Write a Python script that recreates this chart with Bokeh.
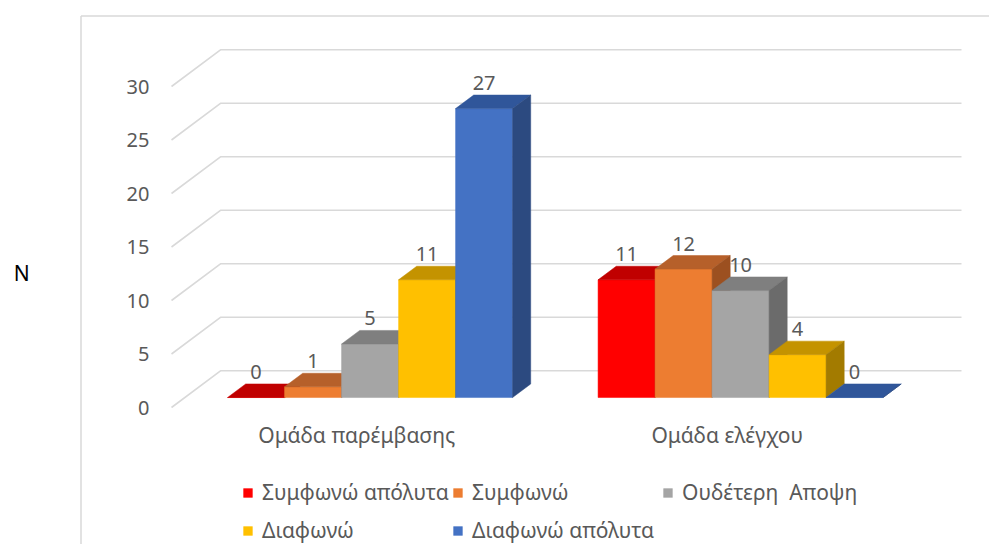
from bokeh.plotting import figure
from bokeh.models import LinearAxis, FixedTicker, Range1d, Legend, LegendItem
from bokeh.core.properties import value
from bokeh.embed import file_html
from bokeh.resources import INLINE

# ---------------- data ----------------
categories = ["Ομάδα παρέμβασης", "Ομάδα ελέγχου"]
series_names = ["Συμφωνώ απόλυτα", "Συμφωνώ", "Ουδέτερη  Αποψη", "Διαφωνώ", "Διαφωνώ απόλυτα"]
agree_abs = [0, 11]
agree = [1, 12]
neutral = [5, 10]
disagree = [11, 4]
disagree_abs = [27, 0]
y_ticks = [0, 5, 10, 15, 20, 25, 30]
y_title = "N"

series_values = [agree_abs, agree, neutral, disagree, disagree_abs]

# ---------------- style ----------------
front_colors = ["#FF0000", "#ED7D31", "#A5A5A5", "#FFC000", "#4472C4"]
top_colors = ["#C00000", "#B6602A", "#7F7F7F", "#C49300", "#30569A"]
side_colors = ["#A00000", "#9C5020", "#6B6B6B", "#A37B00", "#2C4A80"]
TEXT = "#595959"
GRID = "#D9D9D9"
FONT = "Noto Sans"
FS_NUM = "20px"
FS_TXT = "21px"

W, H = 989, 544
FRONT_X0 = 171.0      # screen x of front-left floor corner
CAT_W = 370.5         # screen px per category
ZERO_Y = 407.0        # screen y of value 0 on the front plane
UNIT = 10.7           # screen px per value unit
DEPTH_X = 49.0 / CAT_W
DEPTH_Y = 36.7 / UNIT
F0 = 0.272            # depth of bar fronts
F1 = F0 + 0.37        # depth of bar backs
GAP = 1.5             # gap between groups in bar widths


def sx(px):
    return (px - FRONT_X0) / CAT_W - 0.5


def sy(py):
    return (ZERO_Y - py) / UNIT


frame_left, frame_right = 0, W
frame_top, frame_bottom = 0, H

p = figure(width=W, height=H, output_backend="svg", toolbar_location=None,
           x_range=Range1d(sx(frame_left), sx(frame_right)),
           y_range=Range1d(sy(frame_bottom), sy(frame_top)),
           x_axis_location=None, y_axis_location=None,
           min_border_left=0, min_border_right=0, min_border_top=0,
           min_border_bottom=0)
p.outline_line_color = None
p.xgrid.visible = False
p.ygrid.visible = False
p.background_fill_color = "white"
p.border_fill_color = "white"

# chart-area border (left and top)
p.line([sx(80.5), sx(80.5)], [sy(15.5), sy(frame_bottom)], line_color=GRID, line_width=1.5)
p.line([sx(80.5), sx(frame_right)], [sy(15.5), sy(15.5)], line_color=GRID, line_width=1.5)

# 3D gridlines (side wall + back wall)
n_cat = len(categories)
gx, gy = [], []
for v in y_ticks:
    gx.append([-0.5, -0.5 + DEPTH_X, -0.5 + n_cat + DEPTH_X])
    gy.append([v, v + DEPTH_Y, v + DEPTH_Y])
p.multi_line(gx, gy, line_color=GRID, line_width=1.6)


def proj(x, y, z):
    return x + z * DEPTH_X, y + z * DEPTH_Y


bw = 1.0 / (len(series_names) + GAP)
renderers = []
lab_x, lab_y, lab_t = [], [], []
for s, vals in enumerate(series_values):
    xs, ys, fc = [], [], []
    for c, v in enumerate(vals):
        xl = c - 0.5 + (GAP / 2) * bw + s * bw
        xr = xl + bw
        # front
        pts = [proj(xl, 0, F0), proj(xr, 0, F0), proj(xr, v, F0), proj(xl, v, F0)]
        xs.append([q[0] for q in pts]); ys.append([q[1] for q in pts]); fc.append(front_colors[s])
        # top
        pts = [proj(xl, v, F0), proj(xr, v, F0), proj(xr, v, F1), proj(xl, v, F1)]
        xs.append([q[0] for q in pts]); ys.append([q[1] for q in pts]); fc.append(top_colors[s])
        # side
        pts = [proj(xr, 0, F0), proj(xr, 0, F1), proj(xr, v, F1), proj(xr, v, F0)]
        xs.append([q[0] for q in pts]); ys.append([q[1] for q in pts]); fc.append(side_colors[s])
        lx, _ = proj(xl + bw / 2, v, F0)
        _, ly = proj(xl + bw / 2, v, F1)
        lab_x.append(lx); lab_y.append(ly); lab_t.append(str(v))
    r = p.patches(xs, ys, fill_color=fc, line_color=fc, line_width=0.5)
    renderers.append(r)

p.text(lab_x, lab_y, text=lab_t, text_font=value(FONT), text_font_size=FS_NUM,
       text_color=TEXT, text_align="center", text_baseline="middle", y_offset=-12)

# axes
yaxis = LinearAxis(fixed_location=-0.5, ticker=FixedTicker(ticks=y_ticks),
                   axis_label=y_title, axis_label_orientation="horizontal",
                   axis_label_standoff=94)
yaxis.axis_line_color = None
yaxis.major_tick_line_color = None
yaxis.minor_tick_line_color = None
yaxis.major_tick_out = 0
yaxis.major_label_standoff = 22
yaxis.major_label_text_font = FONT
yaxis.major_label_text_font_size = FS_NUM
yaxis.major_label_text_color = TEXT
yaxis.axis_label_text_font = FONT
yaxis.axis_label_text_font_size = FS_TXT
yaxis.axis_label_text_font_style = "normal"
yaxis.axis_label_text_color = "#000000"
p.add_layout(yaxis, "left")

xaxis = LinearAxis(fixed_location=0, ticker=FixedTicker(ticks=list(range(n_cat))),
                   major_label_overrides={i: c for i, c in enumerate(categories)})
xaxis.axis_line_color = None
xaxis.major_tick_line_color = None
xaxis.minor_tick_line_color = None
xaxis.major_tick_out = 0
xaxis.major_label_standoff = 13
xaxis.major_label_text_font = FONT
xaxis.major_label_text_font_size = FS_TXT
xaxis.major_label_text_color = TEXT
p.add_layout(xaxis, "below")


# legends (two rows)
def make_legend(idx, loc):
    items = [LegendItem(label=series_names[i], renderers=[renderers[i]], index=0) for i in idx]
    lg = Legend(items=items, orientation="horizontal", location=loc,
                glyph_width=11, glyph_height=11, label_standoff=9, label_width=188,
                spacing=2, padding=0, margin=0, border_line_color=None,
                background_fill_alpha=0, label_text_font=FONT,
                label_text_font_size=FS_TXT, label_text_color=TEXT)
    return lg


p.add_layout(make_legend([0, 1, 2], (242, frame_bottom - 506)), "center")
p.add_layout(make_legend([3, 4], (242, frame_bottom - 544)), "center")

open("out.html", "w").write(file_html(p, INLINE))
